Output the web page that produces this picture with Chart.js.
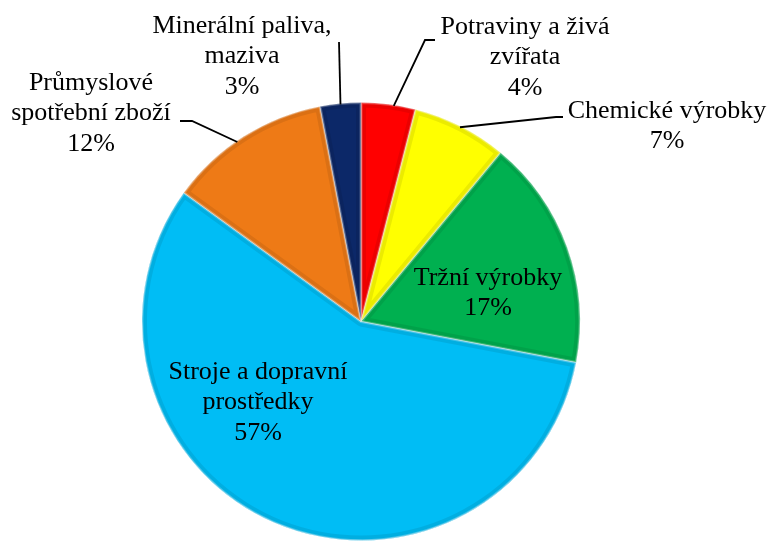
<!DOCTYPE html>
<html>
<head>
<meta charset="utf-8">
<script src="https://cdn.jsdelivr.net/npm/chart.js@4/dist/chart.umd.min.js"></script>
<style>
  html, body { margin: 0; padding: 0; background: #fff; }
  #wrap { width: 771px; height: 541px; position: relative; }
</style>
</head>
<body>
<div id="wrap"><canvas id="myChartPie"></canvas></div>
<script>
const categories = [
    "Potraviny a živá zvířata",
    "Chemické výrobky",
    "Tržní výrobky",
    "Stroje a dopravní prostředky",
    "Průmyslové spotřební zboží",
    "Minerální paliva, maziva"
];
const shares = [4, 7, 17, 57, 12, 3];
const labelLines = [
    ["Potraviny a živá", "zvířata"],
    ["Chemické výrobky"],
    ["Tržní výrobky"],
    ["Stroje a dopravní", "prostředky"],
    ["Průmyslové", "spotřební zboží"],
    ["Minerální paliva,", "maziva"]
];
const sliceColors = ['#FF0000', '#FFFF00', '#00B050', '#00BDF5', '#EE7A16', '#0C2868'];

// label placement: x/y of first line centre, leader = [corner x, corner y, label-side x] or null,
// edge = fraction along the slice where the leader touches the rim
const labelLayout = [
    { x: 525, y: 27, leader: [425, 40, 435], edge: 0.6 },
    { x: 667, y: 111, leader: [556, 117, 563], edge: 0.5 },
    { x: 488, y: 278, leader: null },
    { x: 258, y: 372, leader: null },
    { x: 91, y: 83, leader: [192, 121, 180], edge: 0.45 },
    { x: 242, y: 26, leader: [339, 42, 339], edge: 0.5 }
];

const labelPlugin = {
    id: 'pieLabels',
    afterDatasetsDraw(chart) {
        const ctx = chart.ctx;
        const arcs = chart.getDatasetMeta(0).data;
        // soft bevel on each slice
        arcs.forEach(arc => {
            ctx.save();
            ctx.beginPath();
            ctx.moveTo(arc.x, arc.y);
            ctx.arc(arc.x, arc.y, arc.outerRadius, arc.startAngle, arc.endAngle);
            ctx.closePath();
            ctx.clip();
            ctx.lineJoin = 'round';
            ctx.strokeStyle = 'rgba(0,0,0,0.08)';
            ctx.lineWidth = 10;
            ctx.stroke();
            ctx.strokeStyle = 'rgba(255,255,255,0.25)';
            ctx.lineWidth = 3;
            ctx.stroke();
            ctx.restore();
        });
        ctx.save();
        ctx.font = '26px "Liberation Serif", "Times New Roman", serif';
        ctx.fillStyle = '#000';
        ctx.textAlign = 'center';
        ctx.textBaseline = 'middle';
        arcs.forEach((arc, i) => {
            const lay = labelLayout[i];
            const lines = labelLines[i].concat([shares[i] + '%']);
            lines.forEach((t, k) => ctx.fillText(t, lay.x, lay.y + k * 30.5));
            if (lay.leader) {
                const a = arc.startAngle + (arc.endAngle - arc.startAngle) * lay.edge;
                const ex = arc.x + Math.cos(a) * (arc.outerRadius - 1);
                const ey = arc.y + Math.sin(a) * (arc.outerRadius - 1);
                ctx.beginPath();
                ctx.strokeStyle = '#000';
                ctx.lineWidth = 1.8;
                ctx.moveTo(lay.leader[2], lay.leader[1]);
                ctx.lineTo(lay.leader[0], lay.leader[1]);
                ctx.lineTo(ex, ey);
                ctx.stroke();
            }
        });
        ctx.restore();
    }
};

const chartContext = document.getElementById('myChartPie').getContext('2d');
const pieChart = new Chart(chartContext, {
    type: 'pie',
    data: {
        labels: categories,
        datasets: [{
            data: shares,
            backgroundColor: sliceColors,
            borderColor: 'rgba(255,255,255,0.45)',
            borderWidth: 1
        }]
    },
    options: {
        responsive: true,
        maintainAspectRatio: false,
        animation: false,
        layout: {
            padding: { top: 102, bottom: 0, left: 0, right: 49 }
        },
        plugins: {
            legend: { display: false },
            tooltip: { enabled: false }
        }
    },
    plugins: [labelPlugin]
});
</script>
</body>
</html>
